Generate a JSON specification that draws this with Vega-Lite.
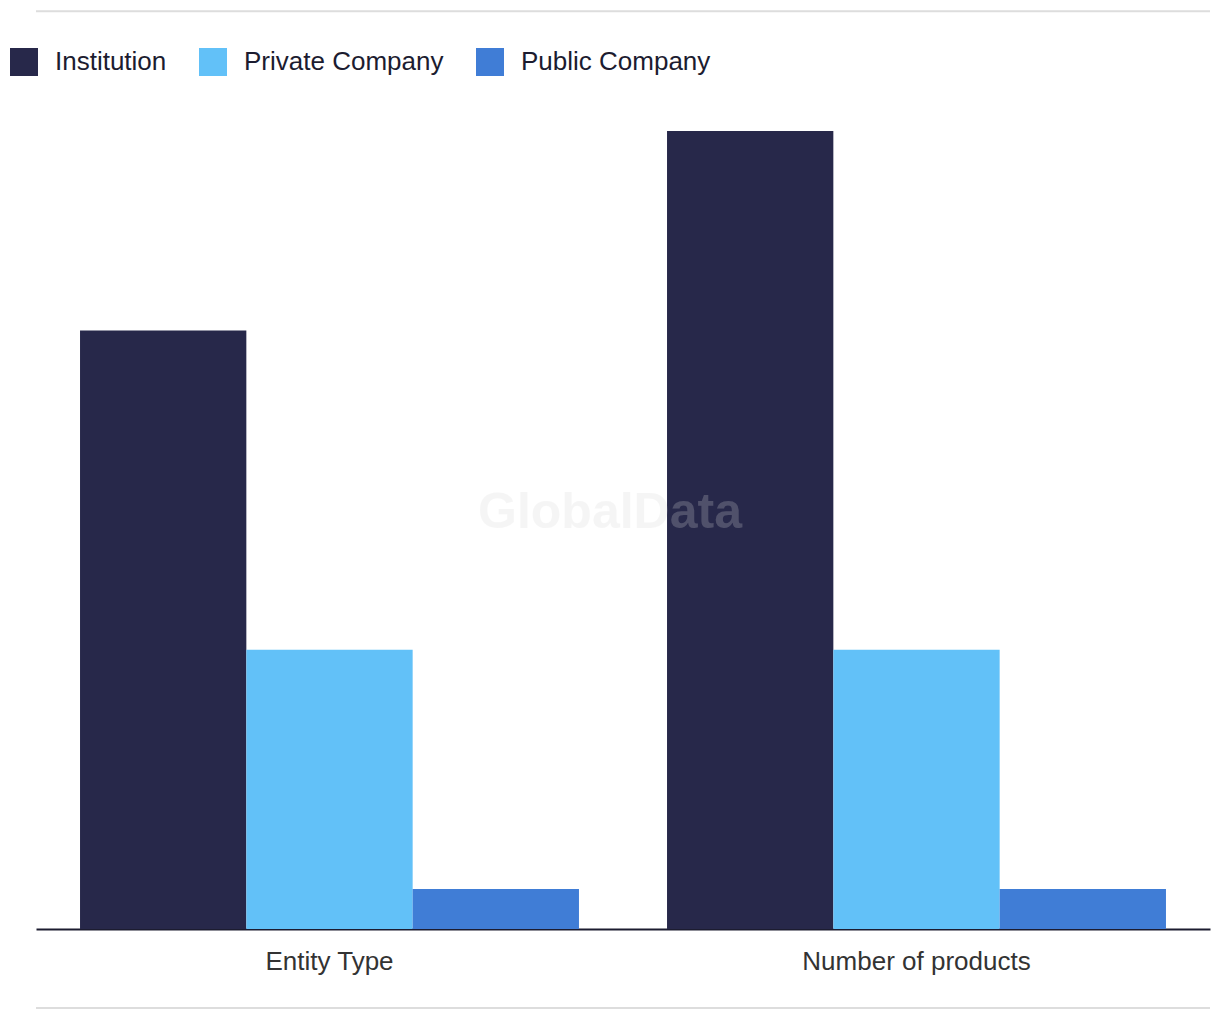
{
  "$schema": "https://vega.github.io/schema/vega-lite/v6.json",
  "width": 1174,
  "height": 798,
  "autosize": {"type": "none"},
  "padding": {"left": 36, "top": 131, "right": 10, "bottom": 91},
  "background": "#ffffff",
  "config": {
    "view": {"stroke": null},
    "font": "Liberation Sans"
  },
  "datasets": {
    "bars": [
      {"category": "Entity Type", "series": "Institution", "value": 30},
      {"category": "Entity Type", "series": "Private Company", "value": 14},
      {"category": "Entity Type", "series": "Public Company", "value": 2},
      {"category": "Number of products", "series": "Institution", "value": 40},
      {"category": "Number of products", "series": "Private Company", "value": 14},
      {"category": "Number of products", "series": "Public Company", "value": 2}
    ],
    "watermark": [{"label": "GlobalData"}],
    "frame": [{"edge": "top", "pos": 46}, {"edge": "bottom", "pos": -3.96}]
  },
  "layer": [
    {
      "data": {"name": "frame"},
      "mark": {"type": "rule", "stroke": "#dddddd", "strokeWidth": 2},
      "encoding": {
        "y": {"field": "pos", "type": "quantitative", "scale": {"domain": [0, 40], "nice": false, "zero": true}, "axis": null}
      }
    },
    {
      "data": {"name": "bars"},
      "mark": {"type": "bar", "cornerRadius": 0},
      "encoding": {
        "x": {
          "field": "category", "type": "nominal",
          "sort": ["Entity Type", "Number of products"],
          "scale": {"paddingInner": 0.15, "paddingOuter": 0.075},
          "axis": {
            "title": null, "labelAngle": 0, "ticks": false,
            "domainColor": "#1c1c30", "domainWidth": 2,
            "labelFontSize": 26, "labelColor": "#333333", "labelPadding": 19, "labelLimit": 0
          }
        },
        "xOffset": {"field": "series", "type": "nominal", "sort": ["Institution", "Private Company", "Public Company"], "scale": {"paddingInner": 0, "paddingOuter": 0}},
        "y": {"field": "value", "type": "quantitative", "scale": {"domain": [0, 40], "nice": false}, "axis": null},
        "color": {
          "field": "series", "type": "nominal",
          "scale": {"domain": ["Institution", "Private Company", "Public Company"], "range": ["#27284a", "#62c1f8", "#407dd6"]},
          "legend": {
            "title": null, "orient": "none", "direction": "horizontal",
            "legendX": -26, "legendY": -83,
            "symbolType": "square", "symbolSize": 784, "symbolStrokeWidth": 0,
            "labelFontSize": 26, "labelColor": "#1c1c30", "labelOffset": 17, "labelLimit": 0,
            "columnPadding": 32
          }
        }
      }
    },
    {
      "data": {"name": "watermark"},
      "mark": {"type": "text", "fontSize": 50, "fontWeight": "bold", "color": "#d8d8d8", "opacity": 0.23, "dx": -13, "dy": -17, "align": "center", "baseline": "middle"},
      "encoding": {
        "text": {"field": "label", "type": "nominal"}
      }
    }
  ]
}
